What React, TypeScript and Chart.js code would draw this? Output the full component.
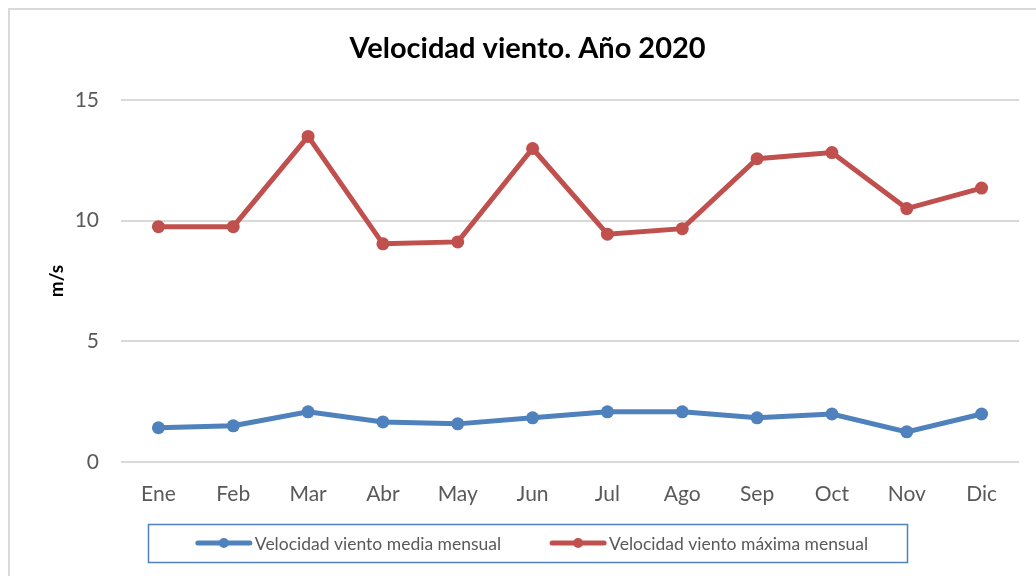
import React, { useEffect, useRef } from "react";
import { Chart, registerables } from "chart.js";

Chart.register(...registerables);

const months = ["Ene", "Feb", "Mar", "Abr", "May", "Jun", "Jul", "Ago", "Sep", "Oct", "Nov", "Dic"];
const mediaMensual = [1.42, 1.5, 2.08, 1.66, 1.58, 1.83, 2.08, 2.08, 1.83, 1.99, 1.25, 1.99];
const maximaMensual = [9.75, 9.75, 13.49, 9.04, 9.12, 12.99, 9.44, 9.67, 12.57, 12.82, 10.5, 11.35];
const seriesNames = ["Velocidad viento media mensual", "Velocidad viento máxima mensual"];
const yTicks = { min: 0, max: 15, step: 5 };
const titleText = "Velocidad viento. Año 2020";
const yTitle = "m/s";

const BLUE = "#4F81BD";
const RED = "#C0504D";
const FONT = "Lato, 'Open Sans', sans-serif";

const frameAndLegend = {
  id: "frameAndLegend",
  beforeDraw(chart: any) {
    const ctx = chart.ctx;
    ctx.save();
    ctx.strokeStyle = "#d9d9d9";
    ctx.lineWidth = 2;
    ctx.strokeRect(9, 9, 1200, 1000);
    ctx.restore();
  },
  afterDraw(chart: any) {
    const ctx = chart.ctx;
    ctx.save();
    ctx.strokeStyle = BLUE;
    ctx.lineWidth = 1.5;
    ctx.strokeRect(148.5, 524.5, 759, 38);
    ctx.font = `17.5px ${FONT}`;
    ctx.textBaseline = "middle";
    ctx.textAlign = "left";
    const symW = 56;
    const gapText = 3;
    const gapItems = 49;
    const ds = chart.data.datasets;
    const widths = ds.map((d: any) => symW + gapText + ctx.measureText(d.label).width);
    const total = widths.reduce((a: number, b: number) => a + b, 0) + gapItems * (ds.length - 1);
    let x = 532 - total / 2;
    const y = 543;
    ds.forEach((d: any, i: number) => {
      ctx.strokeStyle = d.borderColor;
      ctx.lineWidth = 5;
      ctx.lineCap = "round";
      ctx.beginPath();
      ctx.moveTo(x + 2, y);
      ctx.lineTo(x + symW - 2, y);
      ctx.stroke();
      ctx.fillStyle = d.borderColor;
      ctx.beginPath();
      ctx.arc(x + symW / 2, y, 5, 0, Math.PI * 2);
      ctx.fill();
      ctx.fillStyle = "#595959";
      ctx.fillText(d.label, x + symW + gapText, y + 1);
      x += widths[i] + gapItems;
    });
    ctx.restore();
  },
};

export default function App() {
  const ref = useRef<HTMLCanvasElement | null>(null);
  useEffect(() => {
    if (!ref.current) return;
    const chart = new Chart(ref.current, {
      type: "line",
      data: {
        labels: months,
        datasets: [
          {
            label: seriesNames[0],
            data: mediaMensual,
            borderColor: BLUE,
            backgroundColor: BLUE,
            borderWidth: 5,
            pointRadius: 6.5,
            pointHoverRadius: 6.5,
            pointBorderWidth: 0,
            tension: 0,
          },
          {
            label: seriesNames[1],
            data: maximaMensual,
            borderColor: RED,
            backgroundColor: RED,
            borderWidth: 5,
            pointRadius: 6.5,
            pointHoverRadius: 6.5,
            pointBorderWidth: 0,
            tension: 0,
          },
        ],
      },
      options: {
        responsive: false,
        animation: false,
        layout: { padding: { left: 36, right: 17, top: 0, bottom: 54 } },
        plugins: {
          legend: { display: false },
          tooltip: { enabled: false },
          title: {
            display: true,
            text: titleText,
            color: "#000000",
            font: { family: FONT, size: 29, weight: "bold", lineHeight: 1.2 },
            padding: { top: 31.6, bottom: 33.6 },
          },
        },
        scales: {
          x: {
            offset: true,
            grid: { display: false },
            border: { display: false },
            ticks: { color: "#595959", font: { family: FONT, size: 21 }, padding: 12 },
            afterFit(scale: any) {
              scale.height = 60;
            },
          },
          y: {
            min: yTicks.min,
            max: yTicks.max,
            grid: { color: "#d9d9d9", lineWidth: 2, drawTicks: false },
            border: { display: false },
            ticks: { stepSize: yTicks.step, color: "#595959", font: { family: FONT, size: 21 }, padding: 22 },
            title: {
              display: true,
              text: yTitle,
              color: "#000000",
              font: { family: FONT, size: 19, weight: "bold", lineHeight: 1.2 },
              padding: { top: 9.6, bottom: 0 },
            },
            afterFit(scale: any) {
              scale.width = 85;
            },
          },
        },
      },
      plugins: [frameAndLegend],
    });
    return () => chart.destroy();
  }, []);
  return (
    <div style={{ position: "absolute", left: 0, top: 0, width: 1036, height: 576, background: "#fff" }}>
      <canvas ref={ref} width={1036} height={576} />
    </div>
  );
}
